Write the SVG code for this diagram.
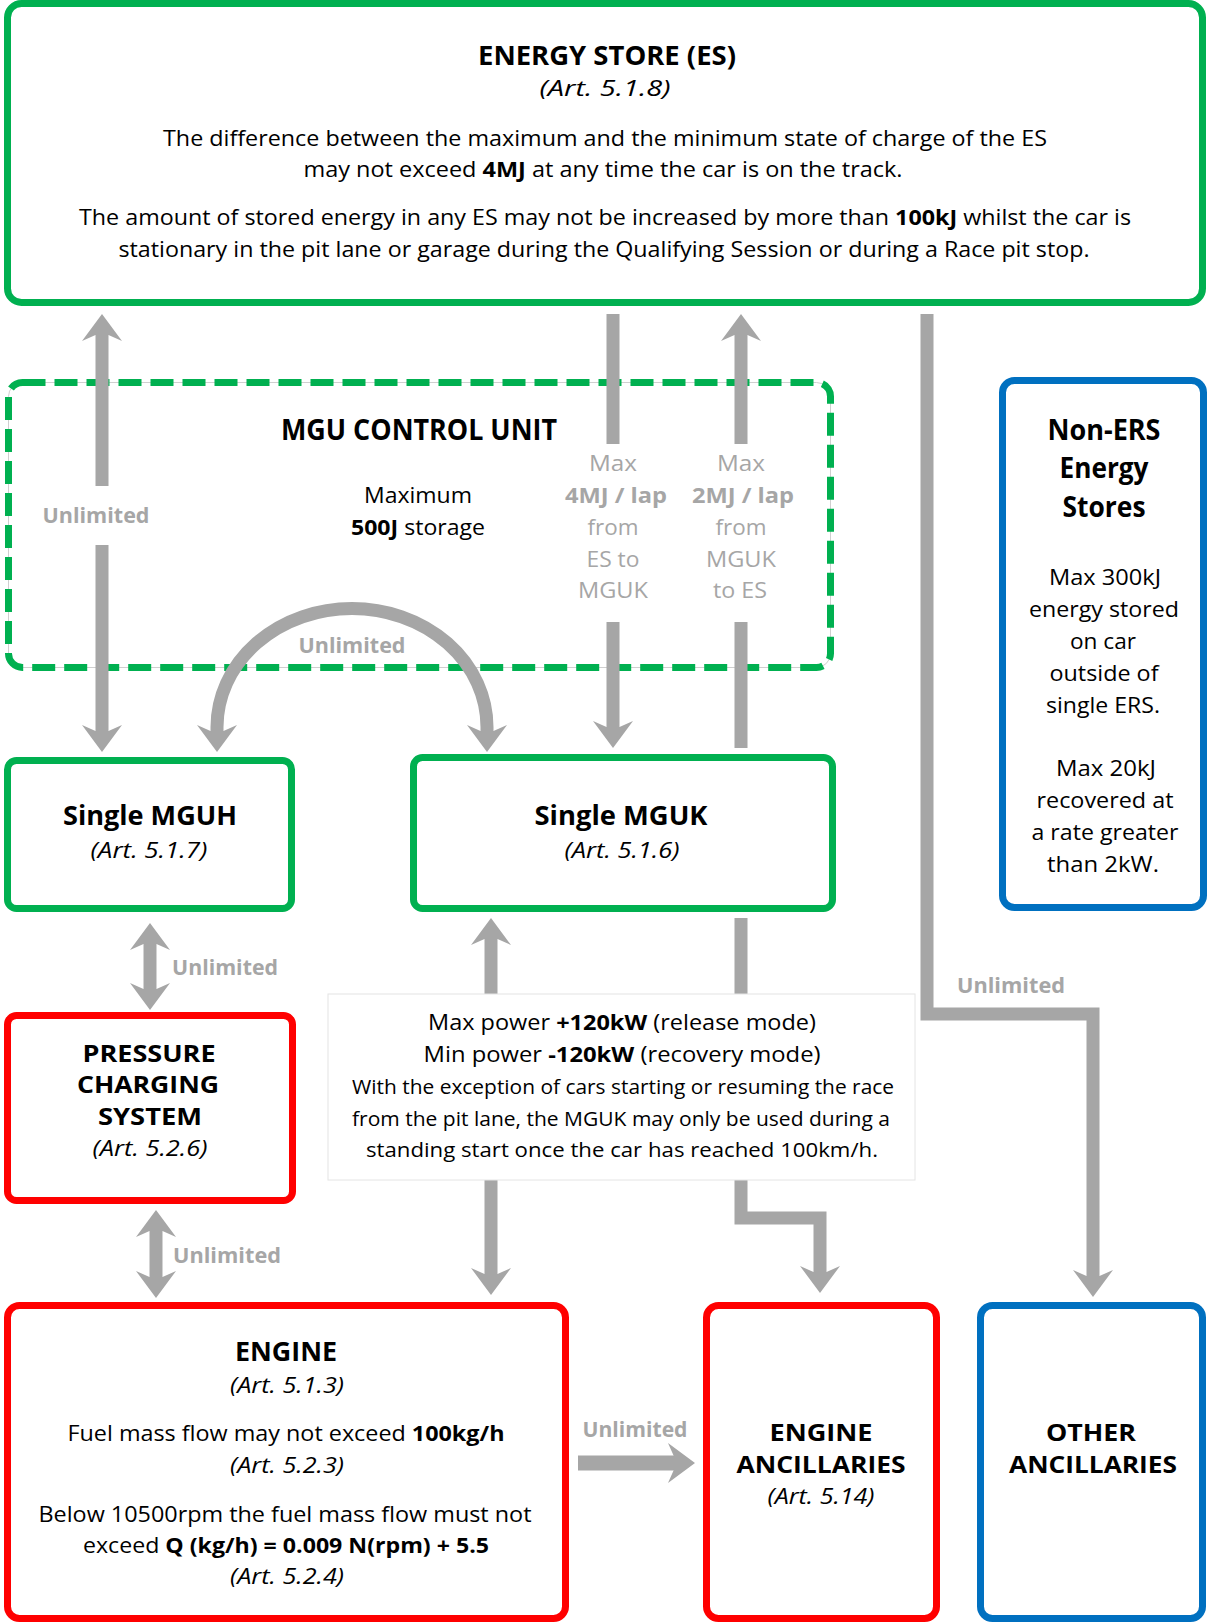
<svg xmlns="http://www.w3.org/2000/svg" width="1208" height="1623" viewBox="0 0 1208 1623">
<style>
.t{font-family:"Open Sans","Liberation Sans",sans-serif;fill:#000;text-anchor:middle}
.b{font-weight:bold}
.i{font-style:italic}
.g{fill:#A6A6A6}
.s22{font-size:22px}
.s21{font-size:21px}
.s20{font-size:19.5px}
.s24{font-size:24px}
.s26{font-size:26px}
.s28{font-size:28px}
.grn{fill:#fff;stroke:#00B050;stroke-width:7}
.red{fill:#fff;stroke:#FF0000;stroke-width:7}
.blu{fill:#fff;stroke:#0070C0;stroke-width:7}
.c{fill:none;stroke:#A6A6A6;stroke-width:13;stroke-linejoin:miter}
</style>
<defs>
<marker id="ah" markerUnits="userSpaceOnUse" markerWidth="30" markerHeight="44" viewBox="0 -22 30 44" refX="8" refY="0" orient="auto-start-reverse" overflow="visible">
<path d="M0,-20 L27,0 L0,20 L6,6.5 L6,-6.5 Z" fill="#A6A6A6"/>
</marker>
</defs>
<rect width="1208" height="1623" fill="#fff"/>

<g id="mgu-control-unit">
<rect x="8.5" y="382.5" width="822" height="285" rx="14" fill="none" stroke="#cfcfcf" stroke-width="1"/>
<rect x="8.5" y="382.5" width="822" height="285" rx="14" fill="none" stroke="#00B050" stroke-width="7" stroke-dasharray="23 9"/>
<text class="t b s28" x="419" y="440" textLength="276" lengthAdjust="spacingAndGlyphs">MGU CONTROL UNIT</text>
<text class="t s22" x="418" y="503" textLength="108" lengthAdjust="spacingAndGlyphs">Maximum</text>
<text class="t s22" x="418" y="535" textLength="134" lengthAdjust="spacingAndGlyphs"><tspan class="b">500J</tspan> storage</text>
</g>

<g id="connectors">
<path class="c" d="M102,486 L102,333" marker-end="url(#ah)"/>
<path class="c" d="M102,545 L102,733" marker-end="url(#ah)"/>
<path class="c" d="M613,314 L613,444"/>
<path class="c" d="M613,622 L613,729" marker-end="url(#ah)"/>
<path class="c" d="M741,748 L741,622"/>
<path class="c" d="M741,444 L741,333" marker-end="url(#ah)"/>
<path class="c" d="M217,733 L217,727 A135,118.5 0 0 1 487,727 L487,733" marker-start="url(#ah)" marker-end="url(#ah)"/>
<path class="c" d="M491,994 L491,937" marker-end="url(#ah)"/>
<path class="c" d="M491,1180 L491,1276" marker-end="url(#ah)"/>
<path class="c" d="M741,918 L741,994"/>
<path class="c" d="M741,1180 L741,1218 L820,1218 L820,1274" marker-end="url(#ah)"/>
<path class="c" d="M927,314 L927,1014 L1093,1014 L1093,1278" marker-end="url(#ah)"/>
<path class="c" d="M150,942 L150,991" marker-start="url(#ah)" marker-end="url(#ah)"/>
<path class="c" d="M156,1229 L156,1279" marker-start="url(#ah)" marker-end="url(#ah)"/>
<path class="c" d="M578,1463 L676,1463" style="stroke-width:15" marker-end="url(#ah)"/>
<text class="t b s21 g" x="96" y="523" textLength="107" lengthAdjust="spacingAndGlyphs">Unlimited</text>
<text class="t s22 g" x="613" y="471" textLength="48" lengthAdjust="spacingAndGlyphs">Max</text>
<text class="t b s22 g" x="616" y="503" textLength="102" lengthAdjust="spacingAndGlyphs">4MJ / lap</text>
<text class="t s22 g" x="613" y="535" textLength="51" lengthAdjust="spacingAndGlyphs">from</text>
<text class="t s22 g" x="613" y="567" textLength="53" lengthAdjust="spacingAndGlyphs">ES to</text>
<text class="t s22 g" x="613" y="598" textLength="70" lengthAdjust="spacingAndGlyphs">MGUK</text>
<text class="t s22 g" x="741" y="471" textLength="48" lengthAdjust="spacingAndGlyphs">Max</text>
<text class="t b s22 g" x="743" y="503" textLength="102" lengthAdjust="spacingAndGlyphs">2MJ / lap</text>
<text class="t s22 g" x="741" y="535" textLength="51" lengthAdjust="spacingAndGlyphs">from</text>
<text class="t s22 g" x="741" y="567" textLength="70" lengthAdjust="spacingAndGlyphs">MGUK</text>
<text class="t s22 g" x="740" y="598" textLength="54" lengthAdjust="spacingAndGlyphs">to ES</text>
<text class="t b s21 g" x="352" y="653" textLength="107" lengthAdjust="spacingAndGlyphs">Unlimited</text>
<text class="t b s21 g" x="225" y="975" textLength="106" lengthAdjust="spacingAndGlyphs">Unlimited</text>
<text class="t b s21 g" x="227" y="1263" textLength="108" lengthAdjust="spacingAndGlyphs">Unlimited</text>
<text class="t b s21 g" x="1011" y="993" textLength="108" lengthAdjust="spacingAndGlyphs">Unlimited</text>
<text class="t b s21 g" x="635" y="1437" textLength="105" lengthAdjust="spacingAndGlyphs">Unlimited</text>
</g>

<g id="energy-store">
<rect class="grn" x="7.5" y="3.5" width="1195" height="299" rx="14"/>
<text class="t b s26" x="607" y="65" textLength="258" lengthAdjust="spacingAndGlyphs">ENERGY STORE (ES)</text>
<text class="t i s22" x="605" y="96" textLength="131" lengthAdjust="spacingAndGlyphs">(Art. 5.1.8)</text>
<text class="t s22" x="605" y="146" textLength="884" lengthAdjust="spacingAndGlyphs">The difference between the maximum and the minimum state of charge of the ES</text>
<text class="t s22" x="603" y="177" textLength="599" lengthAdjust="spacingAndGlyphs">may not exceed <tspan class="b">4MJ</tspan> at any time the car is on the track.</text>
<text class="t s22" x="605" y="225" textLength="1052" lengthAdjust="spacingAndGlyphs">The amount of stored energy in any ES may not be increased by more than <tspan class="b">100kJ</tspan> whilst the car is</text>
<text class="t s22" x="604" y="257" textLength="971" lengthAdjust="spacingAndGlyphs">stationary in the pit lane or garage during the Qualifying Session or during a Race pit stop.</text>
</g>

<g id="single-mguh">
<rect class="grn" x="7.5" y="760.5" width="284" height="148" rx="9"/>
<text class="t b s26" x="150" y="825" textLength="174" lengthAdjust="spacingAndGlyphs">Single MGUH</text>
<text class="t i s22" x="149" y="858" textLength="117" lengthAdjust="spacingAndGlyphs">(Art. 5.1.7)</text>
</g>

<g id="single-mguk">
<rect class="grn" x="413.5" y="757.5" width="419" height="151" rx="9"/>
<text class="t b s26" x="621" y="825" textLength="173" lengthAdjust="spacingAndGlyphs">Single MGUK</text>
<text class="t i s22" x="622" y="858" textLength="115" lengthAdjust="spacingAndGlyphs">(Art. 5.1.6)</text>
</g>

<g id="mguk-limits">
<rect x="328" y="994" width="587" height="186" fill="#fff" stroke="#e4e4e4" stroke-width="1"/>
<text class="t s22" x="622" y="1030" textLength="388" lengthAdjust="spacingAndGlyphs">Max power <tspan class="b">+120kW</tspan> (release mode)</text>
<text class="t s22" x="622" y="1062" textLength="397" lengthAdjust="spacingAndGlyphs">Min power <tspan class="b">-120kW</tspan> (recovery mode)</text>
<text class="t s20" x="623" y="1094" textLength="542" lengthAdjust="spacingAndGlyphs">With the exception of cars starting or resuming the race</text>
<text class="t s20" x="621" y="1126" textLength="538" lengthAdjust="spacingAndGlyphs">from the pit lane, the MGUK may only be used during a</text>
<text class="t s20" x="622" y="1157" textLength="512" lengthAdjust="spacingAndGlyphs">standing start once the car has reached 100km/h.</text>
</g>

<g id="non-ers-energy-stores">
<rect class="blu" x="1002.5" y="380.5" width="201" height="527" rx="12"/>
<text class="t b s28" x="1104" y="440" textLength="113" lengthAdjust="spacingAndGlyphs">Non-ERS</text>
<text class="t b s28" x="1104" y="478" textLength="89" lengthAdjust="spacingAndGlyphs">Energy</text>
<text class="t b s28" x="1104" y="517" textLength="83" lengthAdjust="spacingAndGlyphs">Stores</text>
<text class="t s21" x="1105" y="585" textLength="112" lengthAdjust="spacingAndGlyphs">Max 300kJ</text>
<text class="t s21" x="1104" y="617" textLength="150" lengthAdjust="spacingAndGlyphs">energy stored</text>
<text class="t s21" x="1103" y="649" textLength="66" lengthAdjust="spacingAndGlyphs">on car</text>
<text class="t s21" x="1104" y="681" textLength="109" lengthAdjust="spacingAndGlyphs">outside of</text>
<text class="t s21" x="1103" y="713" textLength="114" lengthAdjust="spacingAndGlyphs">single ERS.</text>
<text class="t s21" x="1106" y="776" textLength="100" lengthAdjust="spacingAndGlyphs">Max 20kJ</text>
<text class="t s21" x="1105" y="808" textLength="137" lengthAdjust="spacingAndGlyphs">recovered at</text>
<text class="t s21" x="1105" y="840" textLength="147" lengthAdjust="spacingAndGlyphs">a rate greater</text>
<text class="t s21" x="1103" y="872" textLength="112" lengthAdjust="spacingAndGlyphs">than 2kW.</text>
</g>

<g id="pressure-charging-system">
<rect class="red" x="7.5" y="1015.5" width="285" height="185" rx="9"/>
<text class="t b s24" x="149" y="1062" textLength="133" lengthAdjust="spacingAndGlyphs">PRESSURE</text>
<text class="t b s24" x="148" y="1093" textLength="142" lengthAdjust="spacingAndGlyphs">CHARGING</text>
<text class="t b s24" x="150" y="1125" textLength="104" lengthAdjust="spacingAndGlyphs">SYSTEM</text>
<text class="t i s22" x="150" y="1156" textLength="115" lengthAdjust="spacingAndGlyphs">(Art. 5.2.6)</text>
</g>

<g id="engine">
<rect class="red" x="7.5" y="1305.5" width="558" height="313" rx="12"/>
<text class="t b s26" x="286" y="1361" textLength="102" lengthAdjust="spacingAndGlyphs">ENGINE</text>
<text class="t i s22" x="287" y="1393" textLength="114" lengthAdjust="spacingAndGlyphs">(Art. 5.1.3)</text>
<text class="t s22" x="286" y="1441" textLength="437" lengthAdjust="spacingAndGlyphs">Fuel mass flow may not exceed <tspan class="b">100kg/h</tspan></text>
<text class="t i s22" x="287" y="1473" textLength="114" lengthAdjust="spacingAndGlyphs">(Art. 5.2.3)</text>
<text class="t s22" x="285" y="1522" textLength="493" lengthAdjust="spacingAndGlyphs">Below 10500rpm the fuel mass flow must not</text>
<text class="t s22" x="286" y="1553" textLength="406" lengthAdjust="spacingAndGlyphs">exceed <tspan class="b">Q (kg/h) = 0.009 N(rpm) + 5.5</tspan></text>
<text class="t i s22" x="287" y="1584" textLength="114" lengthAdjust="spacingAndGlyphs">(Art. 5.2.4)</text>
</g>

<g id="engine-ancillaries">
<rect class="red" x="706.5" y="1305.5" width="230" height="313" rx="12"/>
<text class="t b s24" x="821" y="1441" textLength="103" lengthAdjust="spacingAndGlyphs">ENGINE</text>
<text class="t b s24" x="821" y="1473" textLength="169" lengthAdjust="spacingAndGlyphs">ANCILLARIES</text>
<text class="t i s22" x="821" y="1504" textLength="107" lengthAdjust="spacingAndGlyphs">(Art. 5.14)</text>
</g>

<g id="other-ancillaries">
<rect class="blu" x="980.5" y="1305.5" width="222" height="313" rx="12"/>
<text class="t b s24" x="1091" y="1441" textLength="90" lengthAdjust="spacingAndGlyphs">OTHER</text>
<text class="t b s24" x="1093" y="1473" textLength="168" lengthAdjust="spacingAndGlyphs">ANCILLARIES</text>
</g>
</svg>
